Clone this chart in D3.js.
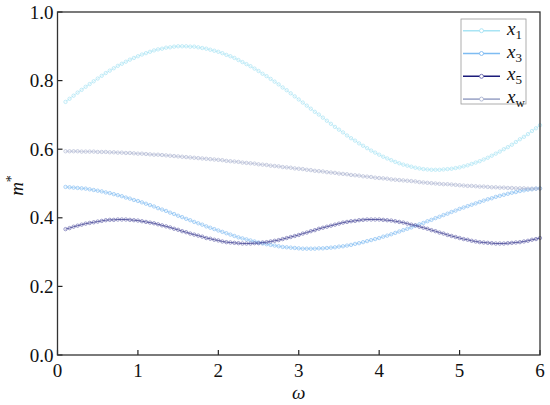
<!DOCTYPE html>
<html><head><meta charset="utf-8">
<script src="https://cdn.jsdelivr.net/npm/d3@7"></script>
<style>body{margin:0;background:#fff}svg{display:block}</style>
</head><body><svg id="c" width="550" height="405"></svg>
<script>
const omegaStart = 0.1, omegaStep = 0.05;
const xTicks = [0,1,2,3,4,5,6];
const yTicks = [0,0.2,0.4,0.6,0.8,1.0];
const seriesNames = ["1","3","5","w"];
const x1 = [0.738,0.747,0.756,0.765,0.773,0.782,0.790,0.798,0.806,0.814,0.822,0.829,0.836,0.843,0.849,0.855,0.861,0.866,0.871,0.876,0.880,0.884,0.888,0.891,0.893,0.896,0.897,0.899,0.900,0.900,0.900,0.899,0.899,0.897,0.895,0.893,0.890,0.887,0.884,0.880,0.875,0.871,0.866,0.860,0.854,0.848,0.842,0.835,0.828,0.820,0.813,0.805,0.797,0.789,0.780,0.772,0.763,0.754,0.745,0.736,0.727,0.718,0.709,0.701,0.692,0.683,0.674,0.665,0.657,0.649,0.640,0.632,0.625,0.617,0.610,0.603,0.596,0.590,0.584,0.578,0.573,0.568,0.563,0.559,0.555,0.552,0.549,0.546,0.544,0.542,0.541,0.540,0.540,0.540,0.541,0.542,0.543,0.545,0.547,0.550,0.553,0.557,0.561,0.565,0.570,0.575,0.581,0.587,0.593,0.600,0.606,0.613,0.621,0.629,0.636,0.644,0.653,0.661,0.670];
const x3 = [0.490,0.489,0.488,0.487,0.486,0.485,0.483,0.481,0.479,0.477,0.474,0.472,0.469,0.466,0.463,0.459,0.456,0.452,0.449,0.445,0.441,0.437,0.433,0.428,0.424,0.420,0.415,0.411,0.406,0.402,0.397,0.393,0.388,0.384,0.380,0.375,0.371,0.367,0.363,0.359,0.355,0.351,0.347,0.343,0.340,0.337,0.334,0.331,0.328,0.325,0.323,0.321,0.319,0.317,0.315,0.314,0.313,0.312,0.311,0.310,0.310,0.310,0.310,0.311,0.311,0.312,0.313,0.314,0.316,0.317,0.319,0.321,0.324,0.326,0.329,0.332,0.335,0.338,0.341,0.345,0.348,0.352,0.356,0.360,0.364,0.368,0.372,0.377,0.381,0.385,0.390,0.394,0.399,0.403,0.408,0.412,0.417,0.421,0.426,0.430,0.434,0.438,0.442,0.446,0.450,0.454,0.457,0.461,0.464,0.467,0.470,0.473,0.475,0.478,0.480,0.482,0.483,0.485,0.486];
const x5 = [0.367,0.370,0.374,0.377,0.380,0.383,0.385,0.387,0.389,0.391,0.393,0.394,0.394,0.395,0.395,0.395,0.394,0.393,0.392,0.390,0.388,0.386,0.384,0.381,0.378,0.375,0.372,0.368,0.365,0.361,0.358,0.354,0.351,0.348,0.345,0.341,0.339,0.336,0.334,0.331,0.329,0.328,0.327,0.326,0.325,0.325,0.325,0.326,0.326,0.328,0.329,0.331,0.333,0.335,0.338,0.341,0.344,0.347,0.350,0.354,0.357,0.361,0.364,0.368,0.371,0.374,0.377,0.380,0.383,0.386,0.388,0.390,0.391,0.393,0.394,0.395,0.395,0.395,0.395,0.394,0.393,0.392,0.390,0.388,0.386,0.383,0.380,0.378,0.374,0.371,0.368,0.364,0.361,0.357,0.354,0.350,0.347,0.344,0.341,0.338,0.336,0.333,0.331,0.329,0.328,0.327,0.326,0.325,0.325,0.325,0.326,0.327,0.328,0.329,0.331,0.333,0.336,0.338,0.341];
const xw = [0.594,0.594,0.594,0.594,0.593,0.593,0.593,0.593,0.592,0.592,0.592,0.591,0.591,0.590,0.590,0.589,0.589,0.588,0.587,0.587,0.586,0.585,0.584,0.584,0.583,0.582,0.581,0.580,0.579,0.578,0.577,0.576,0.575,0.574,0.573,0.572,0.571,0.570,0.569,0.568,0.566,0.565,0.564,0.563,0.561,0.560,0.559,0.558,0.556,0.555,0.554,0.552,0.551,0.550,0.548,0.547,0.546,0.544,0.543,0.542,0.540,0.539,0.537,0.536,0.535,0.533,0.532,0.531,0.529,0.528,0.527,0.525,0.524,0.523,0.521,0.520,0.519,0.517,0.516,0.515,0.514,0.512,0.511,0.510,0.509,0.508,0.507,0.506,0.504,0.503,0.502,0.501,0.500,0.499,0.498,0.498,0.497,0.496,0.495,0.494,0.493,0.493,0.492,0.491,0.491,0.490,0.489,0.489,0.488,0.488,0.487,0.487,0.486,0.486,0.486,0.485,0.485,0.485,0.485];
const colors = ["#a8e4f4","#7ebcf2","#1b1b7a","#a6aecd"];
const markerStroke = ["#9edff2","#76b5f0","#5c5ca8","#a6aecd"];

const FONT = "Liberation Serif";
const svg = d3.select("#c");
const L=57.5, R=540, T=12, B=355;
const x = d3.scaleLinear().domain([0,6]).range([L,R]);
const y = d3.scaleLinear().domain([0,1]).range([B,T]);
const omega = x1.map((_,i)=>+(omegaStart+i*omegaStep).toFixed(2));
const all = [x1,x3,x5,xw];

function txt(sel, size){ return sel.attr("font-family",FONT).attr("font-size",size).style("font-family",FONT).style("font-size",size+"px").attr("fill","#111"); }

svg.append("g").selectAll("line").data(xTicks).join("line")
  .attr("x1",d=>x(d)).attr("x2",d=>x(d)).attr("y1",B).attr("y2",B-5).attr("stroke","#222").attr("stroke-width",1.2);
txt(svg.append("g").selectAll("text").data(xTicks).join("text")
  .attr("x",d=>x(d)).attr("y",B+22).attr("text-anchor","middle").text(d3.format("d")), 19);
svg.append("g").selectAll("line").data(yTicks).join("line")
  .attr("x1",L).attr("x2",L+5).attr("y1",d=>y(d)).attr("y2",d=>y(d)).attr("stroke","#222").attr("stroke-width",1.2);
txt(svg.append("g").selectAll("text").data(yTicks).join("text")
  .attr("x",L-4).attr("y",d=>y(d)+6.5).attr("text-anchor","end").text(d3.format(".1f")), 19);

all.forEach((s,k)=>{
  const line = d3.line().x((d,i)=>x(omega[i])).y(d=>y(d));
  svg.append("path").datum(s).attr("d",line).attr("fill","none").attr("stroke",colors[k]).attr("stroke-width",k===2?0.7:0.5);
  svg.append("g").selectAll("circle").data(s).join("circle")
    .attr("cx",(d,i)=>x(omega[i])).attr("cy",d=>y(d)).attr("r",1.7)
    .attr("fill","none").attr("stroke",markerStroke[k]).attr("stroke-width",0.6);
});

svg.append("rect").attr("x",L).attr("y",T).attr("width",R-L).attr("height",B-T)
  .attr("fill","none").attr("stroke","#333").attr("stroke-width",1.3);

const lg = svg.append("g");
lg.append("rect").attr("x",461).attr("y",19).attr("width",65).attr("height",85).attr("fill","#fff").attr("stroke","#999").attr("stroke-width",0.8);
seriesNames.forEach((n,k)=>{
  const yy = 30.7 + k*22.8;
  lg.append("line").attr("x1",463).attr("x2",500).attr("y1",yy).attr("y2",yy).attr("stroke",colors[k]).attr("stroke-width",1.6);
  lg.append("circle").attr("cx",481.5).attr("cy",yy).attr("r",2).attr("fill","#fff").attr("stroke",markerStroke[k]).attr("stroke-width",0.8);
  const t = txt(lg.append("text").attr("x",507).attr("y",yy+4), 19);
  t.append("tspan").text("x").attr("font-style","italic");
  t.append("tspan").text(n).attr("font-size",13).style("font-size","13px").attr("dy",4);
});

txt(svg.append("text").attr("x",(L+R)/2).attr("y",399).attr("text-anchor","middle").attr("font-style","italic").text("ω"), 19);
const yt = txt(svg.append("text").attr("transform",`translate(23,${(T+B)/2+2}) rotate(-90)`).attr("text-anchor","middle"), 19);
yt.append("tspan").text("m").attr("font-style","italic");
yt.append("tspan").text("*").attr("font-size",14).style("font-size","14px").attr("dy",-7);
</script></body></html>
